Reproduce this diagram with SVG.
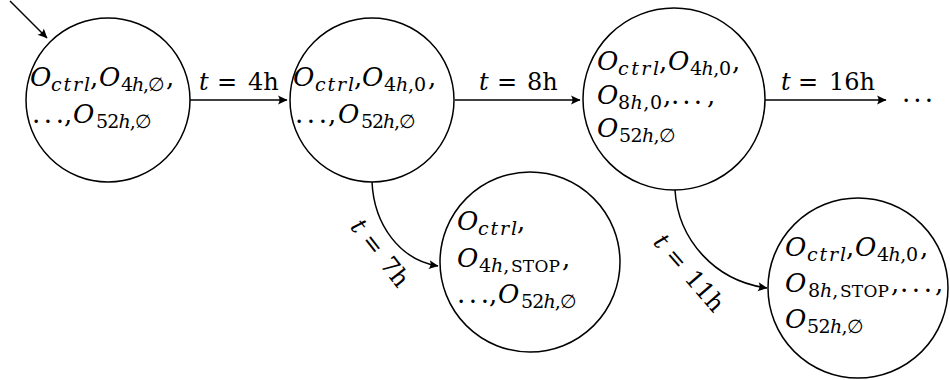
<svg xmlns="http://www.w3.org/2000/svg" width="950" height="380" viewBox="0 0 950 380">
<style>
text{font-family:"DejaVu Serif","Liberation Serif",serif;fill:#000}
.m{font-size:26px}
.l{font-size:24px}
.o{font-size:26px;font-style:italic}
.s{font-size:19px}
.i{font-style:italic}
.sc{font-size:17px}
.node{fill:#fff;stroke:#000;stroke-width:1.5}
.edge{fill:none;stroke:#000;stroke-width:1.5;marker-end:url(#ah)}
</style>
<defs>
<marker id="ah" markerUnits="userSpaceOnUse" viewBox="-10 -5 11 10" refX="0" refY="0" markerWidth="11" markerHeight="10" orient="auto">
<path d="M0.5,0 L-9,-4.5 Q-6,0 -9,4.5 Z" fill="#000"/>
</marker>
</defs>

<g id="connectors">
<line class="edge" x1="10" y1="1" x2="47" y2="38"/>
<line class="edge" x1="190" y1="100" x2="287" y2="100"/>
<line class="edge" x1="455" y1="100" x2="580" y2="100"/>
<line class="edge" x1="765" y1="100" x2="886" y2="100"/>
<path class="edge" d="M372,182 C374,225 400,260 438,266"/>
<path class="edge" d="M675,190 C678,240 715,281 767,288"/>
<text class="l" y="90"><tspan x="199" class="i">t</tspan><tspan x="217">=</tspan><tspan x="248">4h</tspan></text>
<text class="l" y="90"><tspan x="479" class="i">t</tspan><tspan x="497">=</tspan><tspan x="527">8h</tspan></text>
<text class="l" y="90"><tspan x="781" class="i">t</tspan><tspan x="798">=</tspan><tspan x="829">16h</tspan></text>
<text class="m" x="902" y="102" textLength="31" lengthAdjust="spacing">...</text>
<text class="l" transform="translate(380,253) rotate(52)" text-anchor="middle" y="8"><tspan class="i">t</tspan><tspan dx="8">=</tspan><tspan dx="10">7h</tspan></text>
<text class="l" transform="translate(689,273) rotate(49)" text-anchor="middle" y="8"><tspan class="i">t</tspan><tspan dx="8">=</tspan><tspan dx="10">11h</tspan></text>
</g>

<g id="n1">
<circle class="node" cx="108" cy="100" r="82"/>
<text class="o" x="30" y="86">O</text>
<text class="s i" x="51" y="91" textLength="39" lengthAdjust="spacing">ctrl</text>
<text class="m" x="90" y="86">,</text>
<text class="o" x="99" y="86">O</text>
<text class="s" x="121" y="91" textLength="44" lengthAdjust="spacing">4<tspan class="i">h</tspan>,∅</text>
<text class="m" x="166" y="86">,</text>
<text class="m" x="32" y="123" textLength="32" lengthAdjust="spacing">...</text>
<text class="m" x="64" y="123">,</text>
<text class="o" x="73" y="123">O</text>
<text class="s" x="96" y="128" textLength="56" lengthAdjust="spacing">52<tspan class="i">h</tspan>,∅</text>
</g>

<g id="n2">
<circle class="node" cx="372" cy="100" r="82"/>
<text class="o" x="293" y="86">O</text>
<text class="s i" x="315" y="91" textLength="39" lengthAdjust="spacing">ctrl</text>
<text class="m" x="354" y="86">,</text>
<text class="o" x="362" y="86">O</text>
<text class="s" x="384" y="91" textLength="42" lengthAdjust="spacing">4<tspan class="i">h</tspan>,0</text>
<text class="m" x="428" y="86">,</text>
<text class="m" x="295" y="123" textLength="32" lengthAdjust="spacing">...</text>
<text class="m" x="328" y="123">,</text>
<text class="o" x="338" y="123">O</text>
<text class="s" x="361" y="128" textLength="55" lengthAdjust="spacing">52<tspan class="i">h</tspan>,∅</text>
</g>

<g id="n3">
<circle class="node" cx="674" cy="99" r="91"/>
<text class="o" x="597" y="70">O</text>
<text class="s i" x="618" y="75" textLength="41" lengthAdjust="spacing">ctrl</text>
<text class="m" x="659" y="70">,</text>
<text class="o" x="668" y="70">O</text>
<text class="s" x="690" y="75" textLength="41" lengthAdjust="spacing">4<tspan class="i">h</tspan>,0</text>
<text class="m" x="732" y="70">,</text>
<text class="o" x="597" y="104">O</text>
<text class="s" x="618" y="109" textLength="44" lengthAdjust="spacing">8<tspan class="i">h</tspan>,0</text>
<text class="m" x="663" y="104">,</text>
<text class="m" x="671" y="104" textLength="31" lengthAdjust="spacing">...</text>
<text class="m" x="707" y="104">,</text>
<text class="o" x="597" y="137">O</text>
<text class="s" x="619" y="142" textLength="57" lengthAdjust="spacing">52<tspan class="i">h</tspan>,∅</text>
</g>

<g id="n4">
<circle class="node" cx="530" cy="262" r="90"/>
<text class="o" x="457" y="230">O</text>
<text class="s i" x="478" y="235" textLength="39" lengthAdjust="spacing">ctrl</text>
<text class="m" x="517" y="230">,</text>
<text class="o" x="457" y="267">O</text>
<text class="s" x="479" y="272">4<tspan class="i">h</tspan>,</text>
<text class="sc" x="511" y="272" textLength="49" lengthAdjust="spacing">STOP</text>
<text class="m" x="562" y="267">,</text>
<text class="m" x="457" y="303" textLength="32" lengthAdjust="spacing">...</text>
<text class="m" x="489" y="303">,</text>
<text class="o" x="498" y="303">O</text>
<text class="s" x="521" y="308" textLength="56" lengthAdjust="spacing">52<tspan class="i">h</tspan>,∅</text>
</g>

<g id="n5">
<circle class="node" cx="858" cy="288" r="90"/>
<text class="o" x="785" y="256">O</text>
<text class="s i" x="807" y="261" textLength="39" lengthAdjust="spacing">ctrl</text>
<text class="m" x="846" y="256">,</text>
<text class="o" x="855" y="256">O</text>
<text class="s" x="877" y="261" textLength="41" lengthAdjust="spacing">4<tspan class="i">h</tspan>,0</text>
<text class="m" x="920" y="256">,</text>
<text class="o" x="785" y="292">O</text>
<text class="s" x="808" y="297">8<tspan class="i">h</tspan>,</text>
<text class="sc" x="840" y="297" textLength="49" lengthAdjust="spacing">STOP</text>
<text class="m" x="891" y="292">,</text>
<text class="m" x="900" y="292" textLength="32" lengthAdjust="spacing">...</text>
<text class="m" x="935" y="292">,</text>
<text class="o" x="785" y="328">O</text>
<text class="s" x="807" y="333" textLength="57" lengthAdjust="spacing">52<tspan class="i">h</tspan>,∅</text>
</g>
</svg>
